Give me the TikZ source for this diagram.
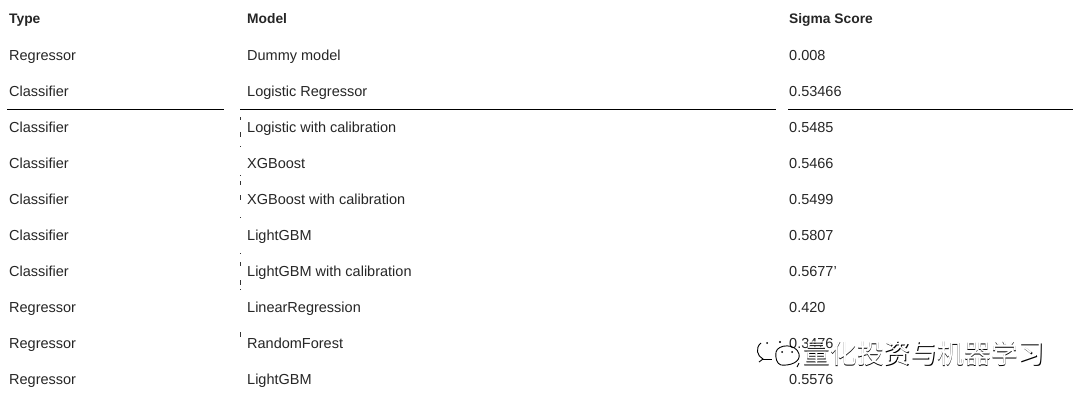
\documentclass[tikz,border=0pt]{standalone}
\usepackage{fontspec}
\setmainfont{Liberation Sans}
\newfontfamily\cjk{Noto Sans CJK SC}
\begin{document}
\begin{tikzpicture}[x=1pt,y=-1pt,
  cell/.style={anchor=base west,inner sep=0pt,font=\fontsize{14.5}{16}\selectfont,text=black!85},
  head/.style={anchor=base west,inner sep=0pt,font=\fontsize{13.8}{16}\selectfont\bfseries,text=black!85},
  rule/.style={line width=1pt,black},
  speck/.style={line width=0.9pt,black!80},
  wm/.style={anchor=center,inner sep=0pt,font=\fontsize{26.8}{29}\selectfont\cjk}]
\useasboundingbox (0,0) rectangle (1080,402);
\fill[white] (0,0) rectangle (1080,402);
\node[head] (h1) at (9,23) {Type};
\node[head] (h2) at (247,23) {Model};
\node[head] (h3) at (789,23) {Sigma Score};
\foreach \y/\a/\b/\c in {60/Regressor/Dummy model/0.008,
  96/Classifier/Logistic Regressor/0.53466,
  132/Classifier/Logistic with calibration/0.5485,
  168/Classifier/XGBoost/0.5466,
  204/Classifier/XGBoost with calibration/0.5499,
  240/Classifier/LightGBM/0.5807,
  276/Classifier/LightGBM with calibration/0.5677',
  312/Regressor/LinearRegression/0.420,
  348/Regressor/RandomForest/0.3476,
  384/Regressor/LightGBM/0.5576}{
  \node[cell] at (9,\y) {\a};
  \node[cell] at (247,\y) {\b};
  \node[cell] at (789,\y) {\c};
}
\draw[rule] (7,109) -- (224,109);
\draw[rule] (240,109) -- (776,109);
\draw[rule] (788,109) -- (1073,109);
\foreach \y/\l in {117/3,132/5,146/1,175/1,181/4,195/5,217/1,253/1,262/4,280/5,289/1,332/5}{
  \draw[speck] (240.5,\y) -- ++(0,\l);
}
% watermark
\node[wm,text=black] (w1) at (924.5,354) {量化投资与机器学习};
\node[wm,text=white] (w2) at (924,353.4) {量化投资与机器学习};
\draw[line width=.9pt,black] (776,352) .. controls (778,344) and (796,343) .. (799,354)
  .. controls (801,362) and (790,366) .. (781,365) .. controls (777,364) and (775,358) .. (776,352);
\draw[line width=.9pt,black] (799,363) -- (797,367);
\draw[line width=.9pt,black] (761,343) .. controls (755,348) and (757,356) .. (763,359) -- (759,362);
\draw[line width=.9pt,black] (763,359) -- (772,359);
\fill (767,343) circle (1);\fill (780,342) circle (1.2);\fill (782,352) circle (1);\fill (792,352) circle (1);
\end{tikzpicture}
\end{document}
